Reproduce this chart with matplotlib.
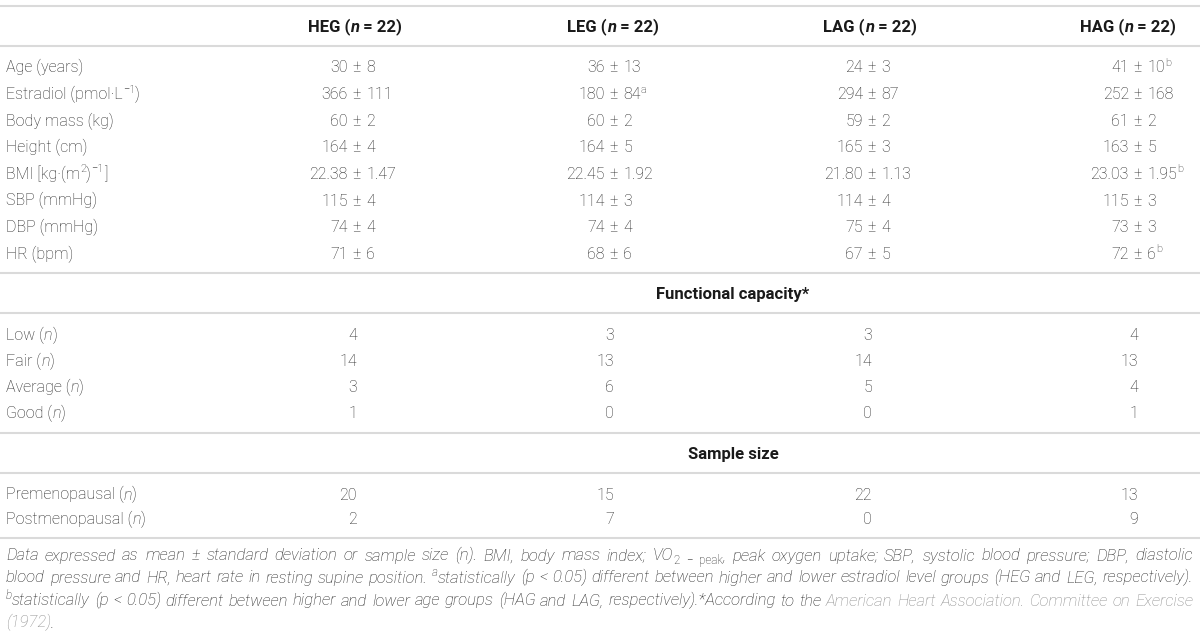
import re

import matplotlib
matplotlib.use("Agg")
import matplotlib.pyplot as plt

W, H = 1200, 634

# ---- data -----------------------------------------------------------------
GROUPS = ["HEG", "LEG", "LAG", "HAG"]
GROUP_N = [22, 22, 22, 22]

BASELINE_LABELS = [
    "Age (years)",
    "Estradiol (pmol·L^{−1})",
    "Body mass (kg)",
    "Height (cm)",
    "BMI [kg·(m^{2})^{−1}]",
    "SBP (mmHg)",
    "DBP (mmHg)",
    "HR (bpm)",
]
HEG_VALUES = ["30 ± 8", "366 ± 111", "60 ± 2", "164 ± 4", "22.38 ± 1.47", "115 ± 4", "74 ± 4", "71 ± 6"]
LEG_VALUES = ["36 ± 13", "180 ± 84^{a}", "60 ± 2", "164 ± 5", "22.45 ± 1.92", "114 ± 3", "74 ± 4", "68 ± 6"]
LAG_VALUES = ["24 ± 3", "294 ± 87", "59 ± 2", "165 ± 3", "21.80 ± 1.13", "114 ± 4", "75 ± 4", "67 ± 5"]
HAG_VALUES = ["41 ± 10^{b}", "252 ± 168", "61 ± 2", "163 ± 5", "23.03 ± 1.95^{b}", "115 ± 3", "73 ± 3", "72 ± 6^{b}"]

FC_TITLE = "Functional capacity*"
FC_LABELS = ["Low", "Fair", "Average", "Good"]
FC_HEG = [4, 14, 3, 1]
FC_LEG = [3, 13, 6, 0]
FC_LAG = [3, 14, 5, 0]
FC_HAG = [4, 13, 4, 1]

SS_TITLE = "Sample size"
SS_LABELS = ["Premenopausal", "Postmenopausal"]
SS_HEG = [20, 2]
SS_LEG = [15, 7]
SS_LAG = [22, 0]
SS_HAG = [13, 9]

CAPTION_LINES = [
    "Data expressed as mean ± standard deviation or sample size (n). BMI, body mass index; "
    "VO_{2 − peak}, peak oxygen uptake; SBP, systolic blood pressure; DBP, diastolic",
    "blood pressure and HR, heart rate in resting supine position. ^{a}statistically (p < 0.05) "
    "different between higher and lower estradiol level groups (HEG and LEG, respectively).",
    "^{b}statistically (p < 0.05) different between higher and lower age groups (HAG and LAG, "
    "respectively).*According to the [[American Heart Association. Committee on Exercise]]",
    "[[(1972)]].",
]

# ---- layout ---------------------------------------------------------------
FONT = "Roboto"
FS = 11.5
FS_HEAD = 12
FS_CAPT = 12
TEXT = "#262626"
HEAD = "#1a1a1a"
LINK = "#8c8c8c"
RULE = "#dadada"

LABEL_X = 6
PIVOTS = [357, 614, 872, 1138]
HEAD_X = [355, 613, 870, 1128]
SECTION_X = 733
PM_PAD = 1.0

RULES_Y = [6, 46, 273, 313, 433, 473, 538]
HEADER_Y = 26
BASE_Y0, BASE_DY = 67, 26.6
FC_TITLE_Y = 293
FC_Y0, FC_DY = 335, 26
SS_TITLE_Y = 453
SS_Y0, SS_DY = 494, 25
CAPTION_Y = [555, 577, 600, 622]
CAPTION_X0, CAPTION_X1 = 6, 1193
TO_BASE = 5.5

fig = plt.figure(figsize=(W / 100, H / 100), dpi=100)
ax = fig.add_axes([0, 0, 1, 1])
ax.set_xlim(0, W)
ax.set_ylim(H, 0)
ax.axis("off")
renderer = fig.canvas.get_renderer()

BODY = dict(weight="light", style="normal", color=TEXT, size=FS)
BOLD = dict(weight="bold", style="normal", color=HEAD, size=FS_HEAD)
CAPT = dict(weight="light", style="italic", color=TEXT, size=FS_CAPT)


def make_text(s, x, y, st):
    return ax.text(x, y - st.get("rise", 0), s, family=FONT,
                   fontsize=st["size"] * st.get("scale", 1.0),
                   fontweight=st["weight"], fontstyle=st["style"],
                   color=st["color"], ha="left", va="baseline")


_widths = {}


def width(s, st):
    key = (s, tuple(sorted(st.items())))
    if key not in _widths:
        t = make_text("|" + s + "|", 0, -200, st)
        w1 = t.get_window_extent(renderer).width
        t.set_text("||")
        w0 = t.get_window_extent(renderer).width
        t.remove()
        _widths[key] = w1 - w0
    return _widths[key]


TOKEN = re.compile(r"(\^\{[^}]*\}|_\{[^}]*\}|`[^`]*`|\[\[.*?\]\])")


def parse(s, base):
    runs = []
    for part in TOKEN.split(s):
        if not part:
            continue
        st = dict(base)
        if part.startswith("^{"):
            st.update(scale=0.7, rise=6.5)
            part = part[2:-1]
        elif part.startswith("_{"):
            st.update(scale=0.7, rise=-3.5, style="normal")
            part = part[2:-1]
        elif part.startswith("`"):
            st.update(style="italic")
            part = part[1:-1]
        elif part.startswith("[["):
            st.update(color=LINK)
            part = part[2:-2]
        runs.append((part, st))
    return runs


def draw_runs(x, y, runs, ha="left"):
    ws = [width(s, st) for s, st in runs]
    total = sum(ws)
    if ha == "right":
        x -= total
    elif ha == "center":
        x -= total / 2
    for (s, st), w in zip(runs, ws):
        make_text(s, x, y, st)
        x += w


def draw_value(pivot, y, val):
    val = str(val)
    if " ± " in val:
        left, right = val.split(" ± ")
        pm = width("±", BODY)
        sp = width(" ", BODY) + PM_PAD
        draw_runs(pivot - pm / 2 - sp, y, parse(left, BODY), ha="right")
        draw_runs(pivot, y, [("±", BODY)], ha="center")
        draw_runs(pivot + pm / 2 + sp, y, parse(right, BODY), ha="left")
    else:
        draw_runs(pivot, y, parse(val, BODY), ha="right")


def draw_justified(y, line, justify=True):
    words = [[]]
    for s, st in parse(line, CAPT):
        for i, piece in enumerate(s.split(" ")):
            if i > 0:
                words.append([])
            if piece:
                words[-1].append((piece, st))
    words = [w for w in words if w]
    ws = [sum(width(s, st) for s, st in w) for w in words]
    if justify and len(words) > 1:
        gap = (CAPTION_X1 - CAPTION_X0 - sum(ws)) / (len(words) - 1)
    else:
        gap = width(" ", CAPT)
    x = CAPTION_X0
    for w, wd in zip(words, ws):
        draw_runs(x, y, w)
        x += wd + gap


# rules
for ry in RULES_Y:
    ax.plot([0, W], [ry, ry], color=RULE, lw=1.5, solid_capstyle="butt")

# column headers
for g, n, hx in zip(GROUPS, GROUP_N, HEAD_X):
    runs = [(g + " (", BOLD), ("n", dict(BOLD, style="italic")), (f" = {n})", BOLD)]
    draw_runs(hx, HEADER_Y + TO_BASE, runs, ha="center")

# baseline characteristics
columns = [HEG_VALUES, LEG_VALUES, LAG_VALUES, HAG_VALUES]
for i, label in enumerate(BASELINE_LABELS):
    y = BASE_Y0 + i * BASE_DY + TO_BASE
    draw_runs(LABEL_X, y, parse(label, BODY))
    for col, pv in zip(columns, PIVOTS):
        draw_value(pv, y, col[i])


def draw_block(title, title_y, labels, cols, y0, dy):
    draw_runs(SECTION_X, title_y + TO_BASE, [(title, BOLD)], ha="center")
    for i, label in enumerate(labels):
        y = y0 + i * dy + TO_BASE
        draw_runs(LABEL_X, y, parse(label + " (`n`)", BODY))
        for col, pv in zip(cols, PIVOTS):
            draw_value(pv, y, col[i])


draw_block(FC_TITLE, FC_TITLE_Y, FC_LABELS, [FC_HEG, FC_LEG, FC_LAG, FC_HAG], FC_Y0, FC_DY)
draw_block(SS_TITLE, SS_TITLE_Y, SS_LABELS, [SS_HEG, SS_LEG, SS_LAG, SS_HAG], SS_Y0, SS_DY)

# caption
for k, (line, cy) in enumerate(zip(CAPTION_LINES, CAPTION_Y)):
    draw_justified(cy + TO_BASE, line, justify=k < len(CAPTION_LINES) - 1)

fig.savefig("out.png", dpi=100, facecolor="white")
